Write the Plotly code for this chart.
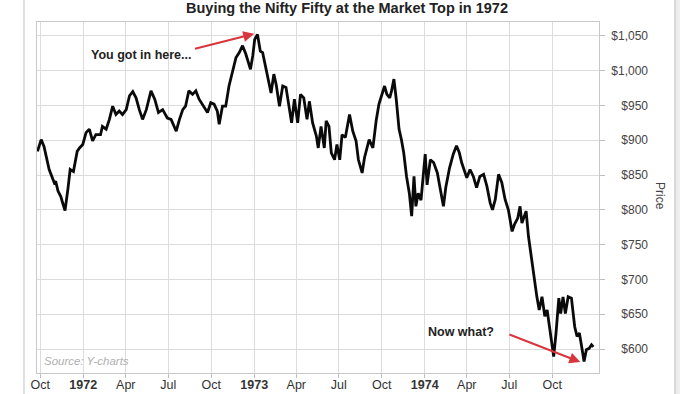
import plotly.graph_objects as go

dates = [
    "1971-09-25", "1971-10-03", "1971-10-09", "1971-10-20", "1971-10-31", "1971-11-03",
    "1971-11-08", "1971-11-14", "1971-11-17", "1971-11-23", "1971-11-29", "1971-12-04",
    "1971-12-11", "1971-12-19", "1971-12-24", "1971-12-31", "1972-01-07", "1972-01-14",
    "1972-01-21", "1972-01-28", "1972-02-07", "1972-02-11", "1972-02-19", "1972-02-26",
    "1972-03-04", "1972-03-11", "1972-03-18", "1972-03-25", "1972-04-02", "1972-04-09",
    "1972-04-16", "1972-04-23", "1972-04-30", "1972-05-07", "1972-05-15", "1972-05-25",
    "1972-06-02", "1972-06-10", "1972-06-19", "1972-06-29", "1972-07-07", "1972-07-18",
    "1972-07-25", "1972-08-01", "1972-08-07", "1972-08-14", "1972-08-22", "1972-08-29",
    "1972-09-05", "1972-09-12", "1972-09-23", "1972-09-30", "1972-10-07", "1972-10-14",
    "1972-10-18", "1972-10-25", "1972-11-01", "1972-11-08", "1972-11-16", "1972-11-23",
    "1972-11-30", "1972-12-07", "1972-12-14", "1972-12-24", "1972-12-29", "1973-01-02",
    "1973-01-08", "1973-01-14", "1973-01-19", "1973-01-26", "1973-02-02", "1973-02-06",
    "1973-02-12", "1973-02-17", "1973-02-24", "1973-03-03", "1973-03-10", "1973-03-17",
    "1973-03-22", "1973-03-28", "1973-04-04", "1973-04-10", "1973-04-17", "1973-04-24",
    "1973-04-29", "1973-05-06", "1973-05-14", "1973-05-18", "1973-05-24", "1973-05-31",
    "1973-06-04", "1973-06-10", "1973-06-15", "1973-06-22", "1973-06-27", "1973-07-03",
    "1973-07-08", "1973-07-15", "1973-07-24", "1973-07-31", "1973-08-07", "1973-08-12",
    "1973-08-20", "1973-08-25", "1973-09-04", "1973-09-12", "1973-09-19", "1973-09-25",
    "1973-10-02", "1973-10-07", "1973-10-12", "1973-10-18", "1973-10-22", "1973-10-27",
    "1973-11-01", "1973-11-07", "1973-11-12", "1973-11-17", "1973-11-23", "1973-11-29",
    "1973-12-04", "1973-12-09", "1973-12-13", "1973-12-18", "1973-12-24", "1973-12-29",
    "1974-01-02", "1974-01-06", "1974-01-13", "1974-01-20", "1974-01-28", "1974-02-04",
    "1974-02-10", "1974-02-15", "1974-02-23", "1974-03-03", "1974-03-10", "1974-03-16",
    "1974-03-21", "1974-04-01", "1974-04-08", "1974-04-15", "1974-04-22", "1974-04-29",
    "1974-05-07", "1974-05-14", "1974-05-21", "1974-05-26", "1974-06-01", "1974-06-08",
    "1974-06-15", "1974-06-22", "1974-06-29", "1974-07-07", "1974-07-12", "1974-07-19",
    "1974-07-24", "1974-07-28", "1974-08-06", "1974-08-11", "1974-08-18", "1974-08-24",
    "1974-08-29", "1974-09-03", "1974-09-09", "1974-09-15", "1974-09-20", "1974-09-25",
    "1974-10-01", "1974-10-04", "1974-10-09", "1974-10-15", "1974-10-19", "1974-10-24",
    "1974-10-29", "1974-11-04", "1974-11-11", "1974-11-18", "1974-11-23", "1974-11-28",
    "1974-12-04", "1974-12-08", "1974-12-13", "1974-12-19", "1974-12-24", "1974-12-28",
]

prices = [
    884, 901, 891, 858, 839, 841,
    827, 819, 812, 799, 829, 858,
    855, 884, 889, 894, 911, 916,
    899, 908, 908, 920, 916, 930,
    949, 937, 942, 937, 944, 964,
    970, 961, 944, 930, 944, 971,
    959, 940, 944, 932, 930, 913,
    930, 944, 949, 971, 966, 971,
    959, 952, 940, 954, 952, 942,
    923, 949, 949, 978, 1002, 1019,
    1026, 1036, 1024, 1002, 1022, 1045,
    1052, 1028, 1026, 1004, 985, 968,
    995, 980, 949, 978, 976, 949,
    925, 959, 925, 966, 961, 930,
    956, 925, 906, 889, 920, 889,
    928, 920, 882, 872, 894, 872,
    908, 904, 937, 913, 899, 872,
    853, 875, 901, 889, 928, 952,
    968, 978, 966, 961, 971, 988,
    959, 916, 901, 882, 848, 824,
    791, 848, 805, 824, 814, 851,
    880, 836, 872, 868, 853, 827,
    805, 832, 860, 880, 892, 882,
    868, 846, 858, 848, 832, 848,
    851, 834, 810, 800, 815, 851,
    839, 815, 800, 769, 779, 788,
    805, 781, 798, 762, 728, 695,
    675, 656, 675, 647, 656, 632,
    603, 589, 623, 673, 651, 675,
    651, 675, 673, 632, 618, 623,
    599, 582, 599, 601, 606, 603,
]

x_tickvals = ["1971-10-01", "1972-01-01", "1972-04-01", "1972-07-01", "1972-10-01",
              "1973-01-01", "1973-04-01", "1973-07-01", "1973-10-01",
              "1974-01-01", "1974-04-01", "1974-07-01", "1974-10-01"]
x_ticktext = ["Oct", "<b>1972</b>", "Apr", "Jul", "Oct",
              "<b>1973</b>", "Apr", "Jul", "Oct",
              "<b>1974</b>", "Apr", "Jul", "Oct"]
y_tickvals = [600, 650, 700, 750, 800, 850, 900, 950, 1000, 1050]
y_ticktext = ["$600", "$650", "$700", "$750", "$800", "$850", "$900", "$950",
              "$1,000", "$1,050"]

title_text = "Buying the Nifty Fifty at the Market Top in 1972"
source_text = "Source: Y-charts"
note_top = "You got in here..."
note_bottom = "Now what?"

FONT = "Liberation Sans, Arial, Helvetica, sans-serif"
Y_RANGE = [565.5, 1070]
X_RANGE = ["1971-09-24", "1975-01-09"]
GRID = "#dcdcdc"
RED = "#d8363c"

fig = go.Figure()
fig.add_trace(go.Scatter(
    x=dates, y=prices, mode="lines",
    line=dict(color="#0a0a0a", width=2.8),
    hoverinfo="skip", showlegend=False,
))
# invisible copy so the label axis is drawn
fig.add_trace(go.Scatter(
    x=dates, y=prices, mode="lines", yaxis="y2",
    line=dict(color="rgba(0,0,0,0)", width=0),
    hoverinfo="skip", showlegend=False,
))

fig.update_layout(
    width=700, height=394,
    margin=dict(l=37, r=52, t=22, b=21),
    paper_bgcolor="white", plot_bgcolor="white",
    font=dict(family=FONT, color="#333"),
    xaxis=dict(
        domain=[0, 0.9198], range=X_RANGE, type="date",
        tickvals=x_tickvals, ticktext=x_ticktext,
        ticks="outside", ticklen=4, tickcolor="#bdbdbd",
        ticklabelstandoff=-4, automargin=False,
        showgrid=True, gridcolor=GRID, gridwidth=1,
        showline=True, linecolor="#c8c8c8", linewidth=1, mirror=True,
        zeroline=False,
        tickfont=dict(family=FONT, size=12.5, color="#333"),
    ),
    yaxis=dict(
        side="right", range=Y_RANGE, tickvals=y_tickvals,
        ticks="outside", ticklen=5, tickcolor="#bdbdbd",
        showticklabels=False, automargin=False,
        showgrid=True, gridcolor=GRID, gridwidth=1,
        showline=True, linecolor="#c8c8c8", linewidth=1, mirror=True,
        zeroline=False,
    ),
    yaxis2=dict(
        overlaying="y", anchor="free", position=1.0, side="left",
        range=Y_RANGE, tickvals=y_tickvals, ticktext=y_ticktext,
        ticks="", showgrid=False, showline=False, zeroline=False,
        automargin=False,
        tickfont=dict(family=FONT, size=12, color="#444"),
    ),
    shapes=[
        dict(type="line", xref="paper", yref="paper",
             x0=-0.0213, x1=-0.0213, y0=-0.07, y1=1.08,
             line=dict(color="#d6d6d6", width=1.5)),
        dict(type="rect", xref="paper", yref="paper",
             x0=1.0442, x1=1.052, y0=-0.07, y1=1.08,
             fillcolor="#ececec", line=dict(width=0)),
        dict(type="line", xref="paper", yref="paper",
             x0=1.0442, x1=1.0442, y0=-0.07, y1=1.08,
             line=dict(color="#cfcfcf", width=1.5)),
    ],
    annotations=[
        dict(text="<b>" + title_text + "</b>", xref="paper", yref="paper",
             x=0.508, y=1.011, xanchor="center", yanchor="bottom",
             showarrow=False, font=dict(family=FONT, size=14.5, color="#222")),
        dict(text="Price", xref="paper", yref="paper",
             x=(660 - 37) / 611, y=(373 - 196) / 351,
             xanchor="center", yanchor="middle", textangle=90,
             showarrow=False, font=dict(family=FONT, size=12, color="#444")),
        dict(text="<i>" + source_text + "</i>", xref="paper", yref="paper",
             x=0.009, y=0.034, xanchor="left", yanchor="middle",
             showarrow=False, font=dict(family=FONT, size=11.5, color="#b0b0b0")),
        dict(text="<b>" + note_top + "</b>", x="1972-05-03", y=1022.7,
             xanchor="center", yanchor="middle", showarrow=False,
             font=dict(family=FONT, size=12.5, color="#222")),
        dict(text="<b>" + note_bottom + "</b>", x="1974-03-20", y=624.4,
             xanchor="center", yanchor="middle", showarrow=False,
             font=dict(family=FONT, size=12.5, color="#222")),
        dict(text="", x="1973-01-01", y=1053, ax="1972-08-24", ay=1031,
             axref="x", ayref="y", showarrow=True, arrowhead=2,
             arrowsize=1.1, arrowwidth=2, arrowcolor=RED, standoff=0),
        dict(text="", x="1974-11-30", y=581.3, ax="1974-06-28", ay=621.6,
             axref="x", ayref="y", showarrow=True, arrowhead=2,
             arrowsize=1.1, arrowwidth=2, arrowcolor=RED, standoff=0),
    ],
)

fig.write_html("out.html", config={"displayModeBar": False},
               post_script="document.body.style.margin='0px';")
